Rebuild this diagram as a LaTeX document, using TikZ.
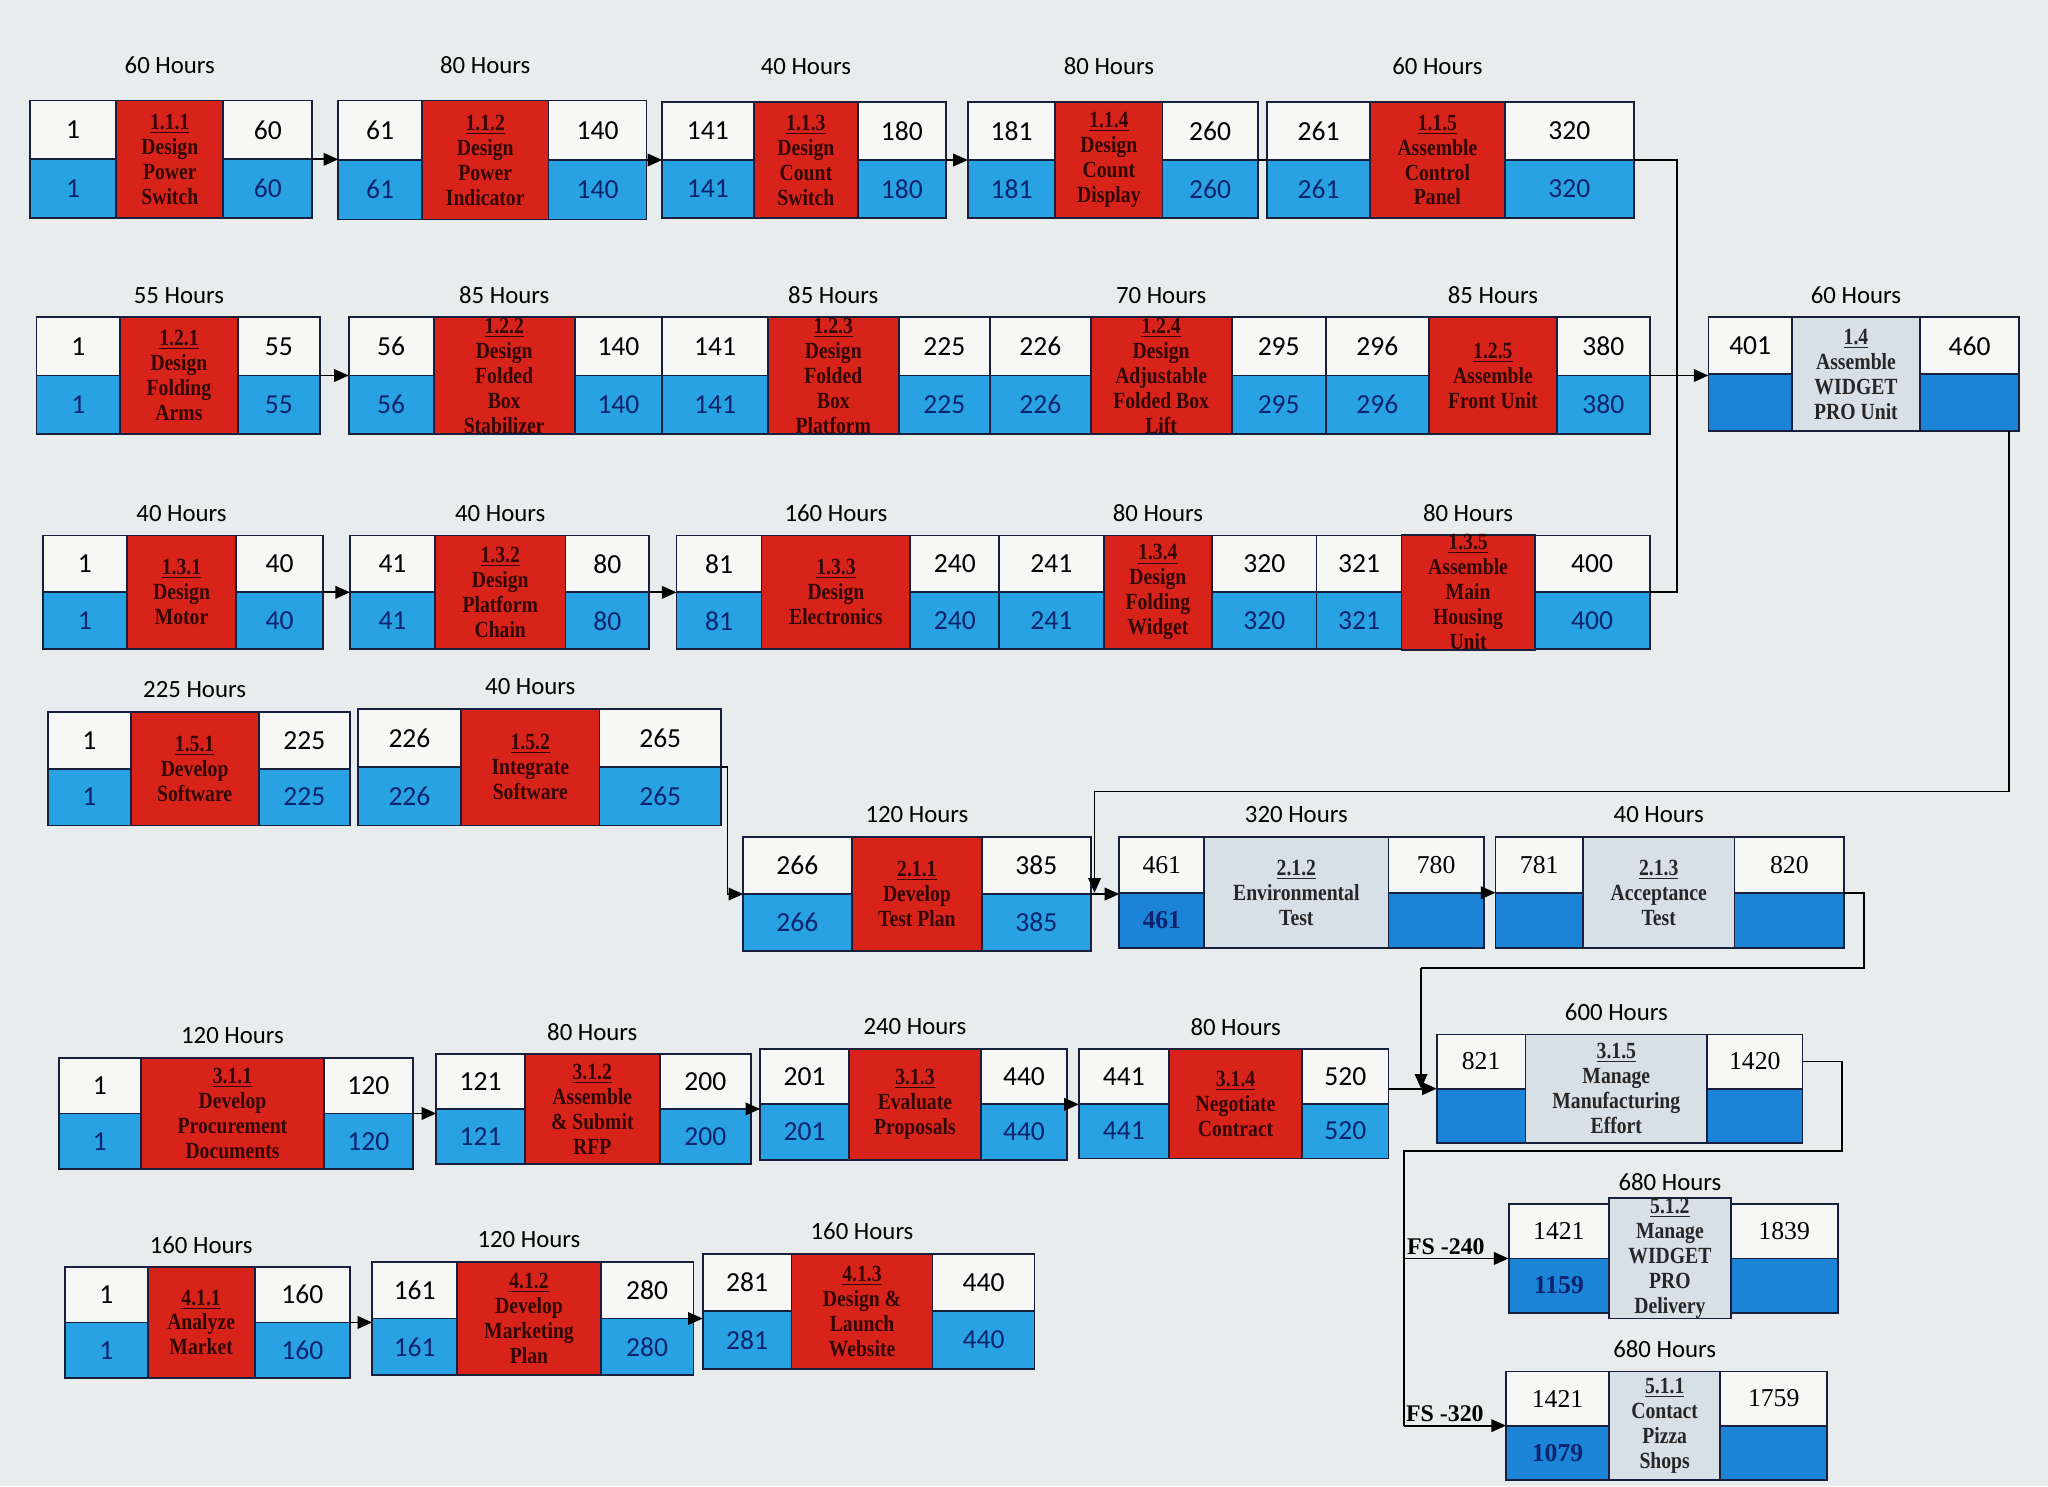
\documentclass[tikz,border=0pt]{standalone}
\usepackage{fontspec}
\setmainfont{Carlito}
\newfontfamily\boxfont[FakeStretch=0.85]{Liberation Serif}
\newfontfamily\numfont{Liberation Serif}
\usetikzlibrary{arrows.meta,calc,positioning}

\definecolor{paper}{RGB}{233,236,236}
\definecolor{critred}{RGB}{216,35,27}
\definecolor{critblue}{RGB}{40,162,226}
\definecolor{planblue}{RGB}{28,132,214}
\definecolor{plangrey}{RGB}{214,224,230}
\definecolor{cellwhite}{RGB}{247,247,245}
\definecolor{edge}{RGB}{22,32,60}
\definecolor{redink}{RGB}{50,6,4}
\definecolor{blueink}{RGB}{12,36,110}

\tikzset{
  wbscell/.style={draw=edge, line width=0.35mm, inner sep=0pt, outer sep=0pt},
  critearly/.style={wbscell, fill=cellwhite, font=\fontsize{15}{15}\selectfont},
  critlate/.style={wbscell, fill=critblue, text=blueink, font=\fontsize{15}{15}\selectfont},
  critmid/.style={wbscell, fill=critred, text=redink, align=center, font=\boxfont\bfseries\fontsize{12.6}{13.6}\selectfont},
  plainearly/.style={wbscell, fill=cellwhite, font=\numfont\fontsize{14}{14}\selectfont},
  plainlate/.style={wbscell, fill=planblue, text=blueink, font=\numfont\bfseries\fontsize{14}{14}\selectfont},
  plainmid/.style={wbscell, fill=plangrey, text=black!85, align=center, font=\boxfont\bfseries\fontsize{12.6}{13.6}\selectfont},
  sumearly/.style={critearly}, sumlate/.style={plainlate}, summid/.style={plainmid},
  hours/.style={font=\fontsize{13.5}{13.5}\selectfont},
  wire/.style={draw=black, line width=0.35mm},
  link/.style={wire, -{Triangle[length=2.8mm,width=2.4mm]}},
  fslabel/.style={font=\numfont\bfseries\fontsize{13}{13}\selectfont, above, inner sep=1.5pt},
}

% [style]{name}{text}{x0}{x1}{y0}{y1}
\newcommand{\putcell}[7][]{%
  \node[#1, minimum width={(#5-#4)*0.25mm}, minimum height={(#7-#6)*0.25mm}] (#2) at ({(#4+#5)/2},{(#6+#7)/2}) {#3};
}
% hours, ES, EF, LS, LF
\def\acttimes#1#2#3#4#5{\def\acth{#1}\def\actes{#2}\def\actef{#3}\def\actls{#4}\def\actlf{#5}}
\def\hoursgap{17}
% Syntax: [crit|plain|sum] {name} (x0,x1,x2,x3) (ytop,ybottom) {middle text}
\def\wbsbox[#1]#2(#3,#4,#5,#6)(#7,#8)#9{%
  \pgfmathsetmacro{\ymid}{(#7+#8)/2}
  \putcell[#1early]{#2-es}{\actes}{#3}{#4}{#7}{\ymid}
  \putcell[#1late]{#2-ls}{\actls}{#3}{#4}{\ymid}{#8}
  \putcell[#1early]{#2-ef}{\actef}{#5}{#6}{#7}{\ymid}
  \putcell[#1late]{#2-lf}{\actlf}{#5}{#6}{\ymid}{#8}
  \putcell[#1mid]{#2-m}{#9}{#4}{#5}{#7}{#8}
  \node[hours] (#2-h) at ({(#4+#5)/2},{#7-\hoursgap}) {\acth\ Hours};
}
\newcommand{\nextlink}[2]{\draw[link] (#1-ef.south east) -- (#1-ef.south east -| #2-es.west);}

\begin{document}
\begin{tikzpicture}[x=0.25mm,y=-0.25mm]
\fill[paper] (0,0) rectangle (1568,1138);
\useasboundingbox (0,0) rectangle (1568,1138);

% 1.1
\def\hoursgap{27}
\acttimes{60}{1}{60}{1}{60}
\wbsbox[crit]{A111}(23,89,171,239)(77,167){\underline{1.1.1}\\Design\\Power\\Switch}
\acttimes{80}{61}{140}{61}{140}
\wbsbox[crit]{A112}(259,323,420,495)(77,168){\underline{1.1.2}\\Design\\Power\\Indicator}
\acttimes{40}{141}{180}{141}{180}
\wbsbox[crit]{A113}(507,577,657,724)(78,167){\underline{1.1.3}\\Design\\Count\\Switch}
\acttimes{80}{181}{260}{181}{260}
\wbsbox[crit]{A114}(741,808,890,963)(78,167){\underline{1.1.4}\\Design\\Count\\Display}
\acttimes{60}{261}{320}{261}{320}
\wbsbox[crit]{A115}(970,1049,1152,1251)(78,167){\underline{1.1.5}\\Assemble\\Control\\Panel}

% 1.2 and 1.4
\def\hoursgap{17}
\acttimes{55}{1}{55}{1}{55}
\wbsbox[crit]{A121}(28,92,182,245)(243,332){\underline{1.2.1}\\Design\\Folding\\Arms}
\acttimes{85}{56}{140}{56}{140}
\wbsbox[crit]{A122}(267,332,440,507)(243,332){\underline{1.2.2}\\Design\\Folded\\Box\\Stabilizer}
\acttimes{85}{141}{225}{141}{225}
\wbsbox[crit]{A123}(507,588,688,758)(243,332){\underline{1.2.3}\\Design\\Folded\\Box\\Platform}
\acttimes{70}{226}{295}{226}{295}
\wbsbox[crit]{A124}(758,835,943,1015)(243,332){\underline{1.2.4}\\Design\\Adjustable\\Folded Box\\Lift}
\acttimes{85}{296}{380}{296}{380}
\wbsbox[crit]{A125}(1015,1094,1192,1263)(243,332){\underline{1.2.5}\\Assemble\\Front Unit}
\acttimes{60}{401}{460}{}{}
\wbsbox[sum]{A14}(1308,1372,1470,1546)(243,330){\underline{1.4}\\Assemble\\WIDGET\\PRO Unit}

% 1.3
\acttimes{40}{1}{40}{1}{40}
\wbsbox[crit]{A131}(33,97,181,247)(410,497){\underline{1.3.1}\\Design\\Motor}
\acttimes{40}{41}{80}{41}{80}
\wbsbox[crit]{A132}(268,333,433,497)(410,497){\underline{1.3.2}\\Design\\Platform\\Chain}
\acttimes{160}{81}{240}{81}{240}
\wbsbox[crit]{A133}(518,583,697,765)(410,497){\underline{1.3.3}\\Design\\Electronics}
\acttimes{80}{241}{320}{241}{320}
\wbsbox[crit]{A134}(765,845,928,1008)(410,497){\underline{1.3.4}\\Design\\Folding\\Widget}
\acttimes{80}{321}{400}{321}{400}
\wbsbox[crit]{A135}(1008,1073,1175,1263)(410,497){\underline{1.3.5}\\Assemble\\Main\\Housing\\Unit}

% 1.5
\acttimes{225}{1}{225}{1}{225}
\wbsbox[crit]{A151}(37,100,198,268)(545,632){\underline{1.5.1}\\Develop\\Software}
\acttimes{40}{226}{265}{226}{265}
\wbsbox[crit]{A152}(274,353,459,552)(543,632){\underline{1.5.2}\\Integrate\\Software}

% 2.1
\acttimes{120}{266}{385}{266}{385}
\wbsbox[crit]{A211}(569,652,752,835)(641,728){\underline{2.1.1}\\Develop\\Test Plan}
\acttimes{320}{461}{780}{461}{}
\wbsbox[plain]{A212}(857,922,1063,1136)(641,726){\underline{2.1.2}\\Environmental\\Test}
\acttimes{40}{781}{820}{}{}
\wbsbox[plain]{A213}(1145,1212,1328,1412)(641,726){\underline{2.1.3}\\Acceptance\\Test}

% 3.1
\acttimes{120}{1}{120}{1}{120}
\wbsbox[crit]{A311}(45,108,248,316)(810,895){\underline{3.1.1}\\Develop\\Procurement\\Documents}
\acttimes{80}{121}{200}{121}{200}
\wbsbox[crit]{A312}(334,402,505,575)(807,891){\underline{3.1.2}\\Assemble\\\& Submit\\RFP}
\acttimes{240}{201}{440}{201}{440}
\wbsbox[crit]{A313}(582,650,751,817)(803,888){\underline{3.1.3}\\Evaluate\\Proposals}
\acttimes{80}{441}{520}{441}{520}
\wbsbox[crit]{A314}(826,895,997,1063)(803,887){\underline{3.1.4}\\Negotiate\\Contract}
\acttimes{600}{821}{1420}{}{}
\wbsbox[plain]{A315}(1100,1168,1307,1380)(792,875){\underline{3.1.5}\\Manage\\Manufacturing\\Effort}

% 5.1
\acttimes{680}{1421}{1839}{1159}{}
\wbsbox[plain]{A512}(1155,1232,1325,1407)(922,1005){\underline{5.1.2}\\Manage\\WIDGET\\PRO\\Delivery}
\acttimes{680}{1421}{1759}{1079}{}
\wbsbox[plain]{A511}(1153,1232,1317,1399)(1050,1133){\underline{5.1.1}\\Contact\\Pizza\\Shops}

% 4.1
\acttimes{160}{1}{160}{1}{160}
\wbsbox[crit]{A411}(50,113,195,268)(970,1055){\underline{4.1.1}\\Analyze\\Market}
\acttimes{120}{161}{280}{161}{280}
\wbsbox[crit]{A412}(285,350,460,531)(966,1053){\underline{4.1.2}\\Develop\\Marketing\\Plan}
\acttimes{160}{281}{440}{281}{440}
\wbsbox[crit]{A413}(538,606,714,792)(960,1048){\underline{4.1.3}\\Design \&\\Launch\\Website}

% links
\nextlink{A111}{A112}
\nextlink{A112}{A113}
\nextlink{A113}{A114}
\draw[wire] (A114-ef.south east) -- (A114-ef.south east -| A115-es.west);
\coordinate (j14) at (1284,287);
\draw[wire] (A115-ef.south east) -| (j14);
\draw[wire] (A135-ef.south east) -| (j14);
\nextlink{A121}{A122}
\nextlink{A125}{A14}
\nextlink{A131}{A132}
\nextlink{A132}{A133}
\draw[link] (A152-ef.south east) -- ++(5,0) |- (A211-es.south west);
\nextlink{A211}{A212}
\coordinate (j212) at (838,606);
\coordinate (m212) at (j212 |- A212-es.south west);
\draw[link] ($(A14-lf.south east)+(-8,0)$) |- (j212) -- (m212);
\nextlink{A212}{A213}
\coordinate (j315) at (1088,741);
\coordinate (m315) at (j315 |- A315-es.south west);
\draw[wire] (A213-ef.south east) -- ++(15,0) |- (j315);
\draw[link] (j315) -- (m315);
\nextlink{A311}{A312}
\nextlink{A312}{A313}
\nextlink{A313}{A314}
\draw[link] (A314-ef.south east |- A315-es.south west) -- (A315-es.south west);
\coordinate (j5) at (1075,881);
\draw[wire] (A315-ef.east) -- ++(30,0) |- (j5) -- (j5 |- A511-es.south west);
\draw[link] (j5 |- A512-es.south west) -- node[fslabel, pos=0.4] (fs240) {FS -240} (A512-es.south west);
\draw[link] (j5 |- A511-es.south west) -- node[fslabel, pos=0.4] (fs320) {FS -320} (A511-es.south west);
\nextlink{A411}{A412}
\nextlink{A412}{A413}
\end{tikzpicture}
\end{document}
